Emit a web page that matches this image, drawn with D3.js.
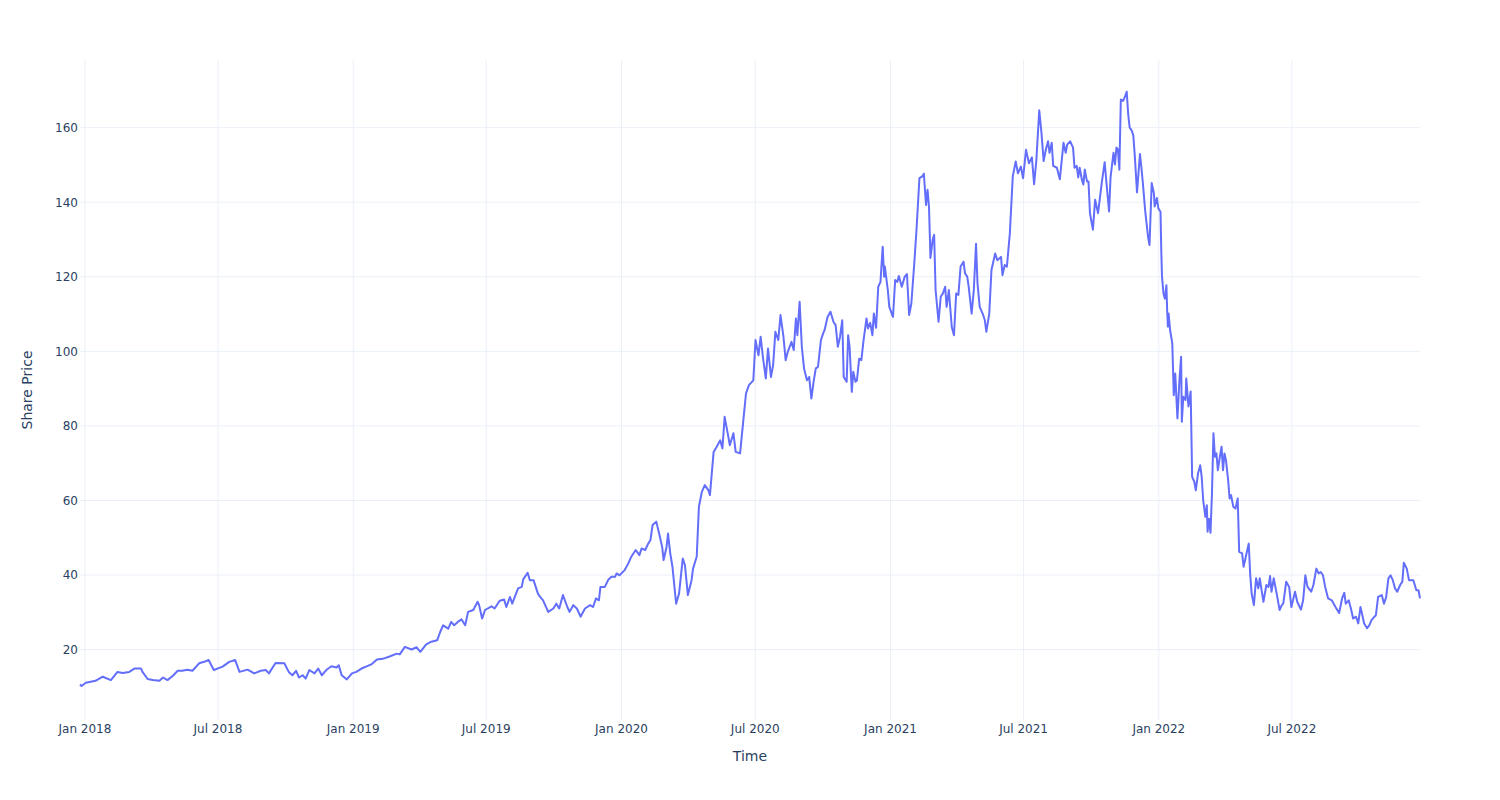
<!DOCTYPE html>
<html>
<head>
<meta charset="utf-8">
<script src="https://cdn.jsdelivr.net/npm/d3@7"></script>
<style>
  body { margin: 0; background: #ffffff; }
  svg { display: block; }
</style>
</head>
<body>
<svg id="chart" width="1500" height="800"></svg>
<script>
// ---- Data: [date, share price] ----
const prices2018 = [
  ["2017-12-26",10.5],["2017-12-28",10.1],["2018-01-03",11.0],["2018-01-16",11.5],["2018-01-26",12.6],
  ["2018-02-06",11.7],["2018-02-15",13.9],["2018-02-22",13.6],["2018-03-03",13.9],["2018-03-10",14.8],
  ["2018-03-19",14.8],["2018-03-21",13.9],["2018-03-28",12.0],["2018-04-04",11.7],["2018-04-13",11.5],
  ["2018-04-18",12.4],["2018-04-24",11.7],["2018-05-01",12.8],["2018-05-08",14.2],["2018-05-14",14.2],
  ["2018-05-21",14.5],["2018-05-28",14.2],["2018-06-06",16.2],["2018-06-13",16.6],["2018-06-19",17.1],
  ["2018-06-26",14.4],["2018-07-08",15.3],["2018-07-17",16.6],["2018-07-25",17.1],["2018-07-31",13.9],
  ["2018-08-11",14.5],["2018-08-20",13.5],["2018-08-29",14.2],["2018-09-05",14.4],["2018-09-09",13.5],
  ["2018-09-18",16.3],["2018-09-30",16.2],["2018-10-06",13.9],["2018-10-11",13.0],["2018-10-16",14.2],
  ["2018-10-20",12.4],["2018-10-25",13.0],["2018-10-29",12.1],["2018-11-03",14.4],["2018-11-10",13.5],
  ["2018-11-15",14.8],["2018-11-20",13.0],["2018-11-26",14.4],["2018-12-03",15.4],["2018-12-10",15.1],
  ["2018-12-13",15.7],["2018-12-17",13.0],["2018-12-24",11.9],["2018-12-31",13.5]
];
const prices2019 = [
  ["2019-01-06",13.9],["2019-01-13",14.8],["2019-01-20",15.4],["2019-01-27",16.0],["2019-02-03",17.2],
  ["2019-02-11",17.4],["2019-02-21",18.1],["2019-03-02",18.8],["2019-03-06",18.6],["2019-03-13",20.6],
  ["2019-03-22",19.9],["2019-03-29",20.5],["2019-04-03",19.3],["2019-04-11",21.3],["2019-04-18",22.0],
  ["2019-04-26",22.4],["2019-04-30",24.6],["2019-05-04",26.4],["2019-05-11",25.5],["2019-05-15",27.3],
  ["2019-05-19",26.4],["2019-05-24",27.3],["2019-05-29",28.0],["2019-06-03",26.4],["2019-06-07",30.0],
  ["2019-06-14",30.5],["2019-06-20",32.7],["2019-06-22",31.8],["2019-06-26",28.2],["2019-06-30",30.5],
  ["2019-07-09",31.5],["2019-07-13",30.9],["2019-07-20",33.0],["2019-07-26",33.3],["2019-07-29",31.3],
  ["2019-08-03",34.0],["2019-08-06",32.2],["2019-08-14",36.3],["2019-08-19",36.7],["2019-08-21",38.7],
  ["2019-08-27",40.5],["2019-08-30",38.5],["2019-09-04",38.5],["2019-09-10",34.9],["2019-09-13",34.0],
  ["2019-09-17",33.1],["2019-09-24",30.0],["2019-10-01",30.9],["2019-10-05",32.2],["2019-10-09",30.9],
  ["2019-10-14",34.5],["2019-10-20",31.3],["2019-10-23",30.0],["2019-10-28",31.8],["2019-11-02",30.9],
  ["2019-11-07",28.7],["2019-11-13",30.9],["2019-11-20",31.8],["2019-11-24",31.3],["2019-11-28",33.6],
  ["2019-12-02",33.1],["2019-12-04",36.7],["2019-12-10",36.7],["2019-12-15",38.7],["2019-12-19",39.4],
  ["2019-12-24",39.4],["2019-12-26",40.3],["2019-12-30",39.8]
];
const prices2020 = [
  ["2020-01-06",41.2],["2020-01-11",43.0],["2020-01-15",44.8],["2020-01-21",46.6],["2020-01-26",45.2],
  ["2020-01-29",47.0],["2020-02-03",46.6],["2020-02-07",48.3],["2020-02-10",49.2],["2020-02-13",53.3],
  ["2020-02-18",54.2],["2020-02-23",50.1],["2020-02-26",47.4],["2020-02-28",43.9],["2020-03-03",47.4],
  ["2020-03-05",51.0],["2020-03-08",45.7],["2020-03-11",42.1],["2020-03-16",32.2],["2020-03-20",34.9],
  ["2020-03-25",44.3],["2020-03-28",42.5],["2020-04-01",34.5],["2020-04-06",38.5],["2020-04-08",41.6],
  ["2020-04-13",44.8],["2020-04-16",58.2],["2020-04-20",62.2],["2020-04-24",64.0],["2020-04-29",62.6],
  ["2020-05-01",61.3],["2020-05-06",72.9],["2020-05-10",74.2],["2020-05-15",76.0],["2020-05-18",73.8],
  ["2020-05-21",82.3],["2020-05-26",77.0],["2020-05-28",74.7],["2020-06-02",77.9],["2020-06-05",72.9],
  ["2020-06-11",72.5],["2020-06-15",80.5],["2020-06-19",88.5],["2020-06-23",90.8],["2020-06-29",92.1],
  ["2020-07-02",102.9],["2020-07-06",98.8],["2020-07-09",103.8],["2020-07-12",98.4],["2020-07-16",92.6],
  ["2020-07-19",100.6],["2020-07-23",93.0],["2020-07-26",96.2],["2020-07-29",105.1],["2020-08-02",102.9],
  ["2020-08-05",109.6],["2020-08-09",103.8],["2020-08-12",97.5],["2020-08-15",99.8],["2020-08-20",102.4],
  ["2020-08-23",100.2],["2020-08-26",108.7],["2020-08-28",104.2],["2020-08-31",113.2],["2020-09-03",101.1],
  ["2020-09-06",95.3],["2020-09-10",92.1],["2020-09-13",93.0],["2020-09-16",87.2],["2020-09-19",91.7],
  ["2020-09-22",95.3],["2020-09-25",95.7],["2020-09-29",102.9],["2020-10-02",104.7],["2020-10-04",105.6],
  ["2020-10-08",109.1],["2020-10-12",110.5],["2020-10-16",107.8],["2020-10-19",106.9],["2020-10-22",101.1],
  ["2020-10-25",103.8],["2020-10-28",108.2],["2020-10-30",93.0],["2020-11-03",91.7],["2020-11-05",104.2],
  ["2020-11-07",101.1],["2020-11-10",89.0],["2020-11-12",94.4],["2020-11-15",91.7],["2020-11-17",92.1],
  ["2020-11-20",97.9],["2020-11-23",97.5],["2020-11-26",102.9],["2020-11-30",108.7],["2020-12-02",106.0],
  ["2020-12-05",107.5],["2020-12-08",104.2],["2020-12-10",110.0],["2020-12-13",106.2],["2020-12-16",117.2],
  ["2020-12-19",118.5],["2020-12-22",127.9],["2020-12-24",119.9],["2020-12-25",122.6],["2020-12-29",116.3],
  ["2020-12-31",111.8]
];
const prices2021 = [
  ["2021-01-05",109.1],["2021-01-08",119.0],["2021-01-11",118.5],["2021-01-13",120.1],["2021-01-17",117.2],
  ["2021-01-21",119.9],["2021-01-24",120.6],["2021-01-27",109.6],["2021-01-30",112.7],["2021-02-03",123.5],
  ["2021-02-06",132.4],["2021-02-10",146.3],["2021-02-14",146.8],["2021-02-16",147.5],["2021-02-19",139.1],
  ["2021-02-21",143.2],["2021-02-23",138.7],["2021-02-25",124.9],["2021-02-28",129.8],["2021-03-02",131.1],
  ["2021-03-04",116.3],["2021-03-08",107.8],["2021-03-11",114.5],["2021-03-14",115.4],["2021-03-17",117.2],
  ["2021-03-19",111.8],["2021-03-22",116.3],["2021-03-26",106.4],["2021-03-29",104.2],["2021-04-01",115.4],
  ["2021-04-04",115.0],["2021-04-07",122.6],["2021-04-11",123.9],["2021-04-13",120.8],["2021-04-16",119.9],
  ["2021-04-18",117.2],["2021-04-22",110.0],["2021-04-25",116.3],["2021-04-28",128.7],["2021-04-30",118.1],
  ["2021-05-03",111.8],["2021-05-07",110.0],["2021-05-10",108.2],["2021-05-12",105.1],["2021-05-16",110.0],
  ["2021-05-19",121.7],["2021-05-24",126.1],["2021-05-27",124.3],["2021-06-01",125.2],["2021-06-03",120.3],
  ["2021-06-06",123.0],["2021-06-09",122.6],["2021-06-13",131.5],["2021-06-17",146.8],["2021-06-21",150.8],
  ["2021-06-24",147.6],["2021-06-28",149.4],["2021-07-01",146.3],["2021-07-05",153.9],["2021-07-09",150.3],
  ["2021-07-13",151.9],["2021-07-16",144.7],["2021-07-19",150.9],["2021-07-23",164.5],["2021-07-26",158.5],
  ["2021-07-29",150.9],["2021-08-01",154.0],["2021-08-04",156.2],["2021-08-06",153.1],["2021-08-09",155.8],
  ["2021-08-11",149.6],["2021-08-16",149.1],["2021-08-20",146.0],["2021-08-25",155.8],["2021-08-28",153.1],
  ["2021-08-30",155.3],["2021-09-03",156.2],["2021-09-07",154.5],["2021-09-09",149.1],["2021-09-12",149.6],
  ["2021-09-14",146.5],["2021-09-16",149.1],["2021-09-19",145.9],["2021-09-21",144.6],["2021-09-23",148.6],
  ["2021-09-26",145.4],["2021-09-28",145.4],["2021-09-30",136.9],["2021-10-04",132.5],["2021-10-07",140.5],
  ["2021-10-11",136.9],["2021-10-16",145.0],["2021-10-20",150.6],["2021-10-23",143.8],["2021-10-26",137.4],
  ["2021-10-28",146.5],["2021-11-01",153.1],["2021-11-03",150.0],["2021-11-05",154.5],["2021-11-07",154.0],
  ["2021-11-09",148.6],["2021-11-11",167.4],["2021-11-14",167.0],["2021-11-17",168.4],["2021-11-19",169.5],
  ["2021-11-21",163.5],["2021-11-23",159.9],["2021-11-26",159.0],["2021-11-28",157.7],["2021-11-30",152.3],
  ["2021-12-03",142.5],["2021-12-07",152.8],["2021-12-09",149.1],["2021-12-11",145.0],["2021-12-14",137.8],
  ["2021-12-16",134.2],["2021-12-18",130.6],["2021-12-20",128.4],["2021-12-23",145.0],["2021-12-26",142.2],
  ["2021-12-27",138.7],["2021-12-30",141.0]
];
const prices2022 = [
  ["2022-01-01",138.2],["2022-01-04",137.3],["2022-01-05",127.0],["2022-01-06",119.9],["2022-01-08",115.4],
  ["2022-01-10",114.0],["2022-01-12",117.6],["2022-01-13",110.9],["2022-01-14",106.5],["2022-01-15",110.0],
  ["2022-01-17",105.6],["2022-01-20",102.0],["2022-01-22",88.1],["2022-01-24",93.9],["2022-01-27",81.9],
  ["2022-01-30",93.0],["2022-02-01",98.4],["2022-02-02",81.0],["2022-02-04",87.7],["2022-02-07",86.8],
  ["2022-02-08",92.6],["2022-02-11",85.1],["2022-02-14",89.1],["2022-02-16",66.2],["2022-02-19",64.9],
  ["2022-02-21",62.6],["2022-02-24",67.1],["2022-02-27",69.3],["2022-03-01",66.2],["2022-03-03",60.0],
  ["2022-03-06",55.5],["2022-03-08",58.6],["2022-03-09",51.5],["2022-03-11",55.0],["2022-03-13",51.2],
  ["2022-03-15",61.8],["2022-03-17",77.9],["2022-03-19",71.6],["2022-03-21",72.5],["2022-03-23",68.0],
  ["2022-03-25",70.7],["2022-03-28",74.3],["2022-03-30",68.0],["2022-04-01",72.5],["2022-04-03",70.7],
  ["2022-04-06",65.3],["2022-04-08",60.4],["2022-04-10",61.3],["2022-04-13",58.2],["2022-04-16",57.7],
  ["2022-04-19",60.4],["2022-04-21",46.1],["2022-04-25",45.7],["2022-04-27",42.1],["2022-04-30",44.8],
  ["2022-05-04",48.3],["2022-05-06",40.0],["2022-05-08",34.9],["2022-05-11",31.8],["2022-05-14",39.0],
  ["2022-05-17",36.3],["2022-05-19",39.0],["2022-05-24",32.7],["2022-05-28",37.2],["2022-05-31",36.7],
  ["2022-06-02",39.6],["2022-06-04",35.4],["2022-06-07",39.0],["2022-06-11",34.9],["2022-06-15",30.5],
  ["2022-06-18",31.8],["2022-06-20",32.2],["2022-06-24",38.1],["2022-06-28",36.7],["2022-07-01",31.3],
  ["2022-07-06",35.4],["2022-07-09",32.7],["2022-07-14",30.6],["2022-07-17",33.1],["2022-07-20",39.8],
  ["2022-07-23",36.7],["2022-07-28",35.4],["2022-07-31",37.2],["2022-08-04",41.6],["2022-08-07",40.3],
  ["2022-08-10",40.7],["2022-08-13",39.8],["2022-08-16",36.7],["2022-08-20",33.6],["2022-08-25",33.1],
  ["2022-08-30",31.3],["2022-09-04",29.7],["2022-09-08",33.6],["2022-09-11",35.1],["2022-09-13",32.2],
  ["2022-09-17",33.1],["2022-09-20",30.9],["2022-09-23",28.2],["2022-09-27",28.7],["2022-09-30",26.9],
  ["2022-10-03",31.3],["2022-10-06",28.7],["2022-10-08",26.9],["2022-10-12",25.6],["2022-10-15",26.4],
  ["2022-10-18",27.8],["2022-10-22",28.7],["2022-10-24",29.1],["2022-10-27",34.0],["2022-11-01",34.5],
  ["2022-11-04",32.2],["2022-11-07",34.0],["2022-11-10",39.0],["2022-11-13",39.8],["2022-11-16",38.5],
  ["2022-11-19",36.3],["2022-11-22",35.4],["2022-11-26",37.2],["2022-11-29",38.1],["2022-12-01",43.2],
  ["2022-12-05",41.6],["2022-12-08",38.5],["2022-12-14",38.5],["2022-12-18",35.8],["2022-12-21",35.8],
  ["2022-12-23",33.6]
];

const xTickDates = ["2018-01-01","2018-07-01","2019-01-01","2019-07-01","2020-01-01",
                    "2020-07-01","2021-01-01","2021-07-01","2022-01-01","2022-07-01"];
const yTickValues = [20, 40, 60, 80, 100, 120, 140, 160];
const xTitle = "Time";
const yTitle = "Share Price";

// ---- Chart ----
const W = 1500, H = 800;
const margin = { l: 80, r: 80, t: 60, b: 80 };
const FONT = "'DejaVu Sans', Verdana, sans-serif";
const TEXT = "#2a3f5f";
const GRID = "#EBF0F8";

const parse = d3.timeParse("%Y-%m-%d");
const data = [].concat(prices2018, prices2019, prices2020, prices2021, prices2022)
  .map(([d, v]) => ({ date: parse(d), value: v }));

const x = d3.scaleTime()
  .domain(d3.extent(data, d => d.date))
  .range([margin.l, W - margin.r]);
const y = d3.scaleLinear()
  .domain([1, 178])
  .range([H - margin.b, margin.t]);

const svg = d3.select("#chart");
svg.append("rect").attr("width", W).attr("height", H).attr("fill", "#ffffff");

// gridlines
const xGrid = d3.axisBottom(x)
  .tickValues(xTickDates.map(parse))
  .tickSize(-(H - margin.t - margin.b))
  .tickFormat("");
svg.append("g")
  .attr("transform", `translate(0,${H - margin.b})`)
  .call(xGrid)
  .call(g => g.select(".domain").remove())
  .call(g => g.selectAll("line").attr("stroke", GRID).attr("stroke-width", 1));

const yGrid = d3.axisLeft(y)
  .tickValues(yTickValues)
  .tickSize(-(W - margin.l - margin.r))
  .tickFormat("");
svg.append("g")
  .attr("transform", `translate(${margin.l},0)`)
  .call(yGrid)
  .call(g => g.select(".domain").remove())
  .call(g => g.selectAll("line").attr("stroke", GRID).attr("stroke-width", 1));

// axes labels
const xAxis = d3.axisBottom(x)
  .tickValues(xTickDates.map(parse))
  .tickFormat(d3.timeFormat("%b %Y"))
  .tickSize(0)
  .tickPadding(0);
svg.append("g")
  .attr("transform", `translate(0,${H - margin.b})`)
  .call(xAxis)
  .call(g => g.select(".domain").remove())
  .call(g => g.selectAll("text")
    .attr("y", 12.5).attr("dy", 0)
    .attr("font-family", FONT).attr("font-size", 12).attr("fill", TEXT));

const yAxis = d3.axisLeft(y)
  .tickValues(yTickValues)
  .tickSize(0)
  .tickPadding(0);
svg.append("g")
  .attr("transform", `translate(${margin.l},0)`)
  .call(yAxis)
  .call(g => g.select(".domain").remove())
  .call(g => g.selectAll("text")
    .attr("x", -2).attr("dy", "0.36em")
    .attr("font-family", FONT).attr("font-size", 12).attr("fill", TEXT));

// line
const line = d3.line()
  .x(d => x(d.date))
  .y(d => y(d.value));
svg.append("path")
  .datum(data)
  .attr("fill", "none")
  .attr("stroke", "#636efa")
  .attr("stroke-width", 2)
  .attr("stroke-linejoin", "round")
  .attr("d", line);

// axis titles
svg.append("text")
  .attr("x", (margin.l + W - margin.r) / 2)
  .attr("y", 761)
  .attr("text-anchor", "middle")
  .attr("font-family", FONT).attr("font-size", 14).attr("fill", TEXT)
  .text(xTitle);
svg.append("text")
  .attr("transform", `translate(31.5,${(margin.t + H - margin.b) / 2}) rotate(-90)`)
  .attr("text-anchor", "middle")
  .attr("font-family", FONT).attr("font-size", 14).attr("fill", TEXT)
  .text(yTitle);
</script>
</body>
</html>
